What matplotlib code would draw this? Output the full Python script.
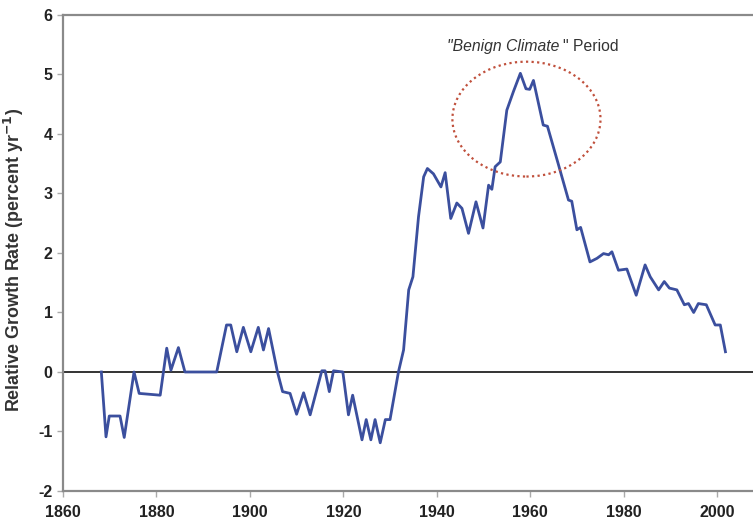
import matplotlib.pyplot as plt
from matplotlib.patches import Ellipse

plt.rcParams["font.family"] = ["Liberation Sans", "DejaVu Sans"]

# values
years = [
    1868.2, 1869.2, 1869.9, 1872.2, 1873.1, 1875.2, 1876.3, 1880.8, 1882.2, 1883.1,
    1884.7, 1886.1, 1892.9, 1895.0, 1895.9, 1897.2, 1898.6, 1900.2, 1901.8, 1902.9,
    1904.0, 1905.9, 1907.0, 1908.6, 1910.0, 1911.5, 1912.9, 1915.4, 1916.1, 1917.0,
    1917.9, 1919.9, 1921.1, 1922.0, 1924.0, 1924.9, 1925.9, 1926.8, 1927.9, 1929.0,
    1930.0, 1931.8, 1932.9, 1934.0, 1934.9, 1936.1, 1937.2, 1938.0, 1939.3, 1940.9,
    1941.8, 1943.0, 1944.3, 1945.4, 1946.8, 1948.4, 1949.9, 1951.1, 1951.8, 1952.5,
    1953.6, 1955.0, 1956.4, 1957.9, 1959.1, 1959.9, 1960.7, 1962.8, 1963.7, 1966.0,
    1968.2, 1968.9, 1970.0, 1970.8, 1972.8, 1974.3, 1975.7, 1976.8, 1977.5, 1978.9,
    1980.7, 1982.7, 1984.6, 1985.7, 1987.5, 1988.7, 1989.8, 1991.4, 1993.0, 1993.9,
    1995.0, 1996.0, 1997.7, 1999.6, 2000.7, 2001.8,
]
growth = [
    0.00, -1.09, -0.74, -0.74, -1.10, 0.00, -0.36, -0.39, 0.40, 0.03,
    0.41, 0.00, 0.00, 0.79, 0.79, 0.34, 0.75, 0.34, 0.75, 0.37,
    0.73, 0.00, -0.33, -0.36, -0.71, -0.35, -0.72, 0.02, 0.02, -0.33,
    0.02, 0.00, -0.72, -0.39, -1.14, -0.80, -1.14, -0.80, -1.19, -0.80,
    -0.80, 0.00, 0.37, 1.38, 1.60, 2.61, 3.28, 3.42, 3.33, 3.11,
    3.35, 2.58, 2.84, 2.75, 2.33, 2.86, 2.42, 3.14, 3.07, 3.45,
    3.53, 4.40, 4.71, 5.02, 4.76, 4.75, 4.90, 4.15, 4.13, 3.50,
    2.89, 2.87, 2.39, 2.43, 1.85, 1.91, 1.99, 1.97, 2.02, 1.71,
    1.73, 1.29, 1.80, 1.60, 1.38, 1.52, 1.41, 1.38, 1.13, 1.15,
    1.00, 1.15, 1.13, 0.79, 0.79, 0.34,
]

x_ticks = [1860, 1880, 1900, 1920, 1940, 1960, 1980, 2000]
y_ticks = [-2, -1, 0, 1, 2, 3, 4, 5, 6]

fig = plt.figure(figsize=(7.53, 5.24), dpi=100)
ax = fig.add_axes([0.0837, 0.063, 0.9163, 0.9084])

ax.axhline(0, color="#333333", lw=1.4, zorder=1)
ax.plot(years, growth, color="#3b4f9e", lw=2, solid_joinstyle="round", zorder=2)

# "benign climate" ring
ax.add_patch(Ellipse((1959.2, 4.25), 31.7, 1.93, fill=False, ec="#c0503c",
                     ls=(0, (1, 1.5)), lw=1.6, zorder=3))
ax.text(1942.2, 5.47, "\"Benign Climate", style="italic", fontsize=11.3,
        color="#333333", va="center", ha="left")
ax.text(1967.1, 5.47, "\" Period", fontsize=11.3, color="#333333",
        va="center", ha="left")

ax.set_xlim(1860, 2007.7)
ax.set_ylim(-2, 6)
ax.set_xticks(x_ticks)
ax.set_yticks(y_ticks)
ax.set_xticklabels([str(t) for t in x_ticks], fontweight="bold", fontsize=11.5)
ax.set_yticklabels([str(t) for t in y_ticks], fontweight="bold", fontsize=11.5)
ax.tick_params(axis="both", colors="#aaaaaa", labelcolor="#222222", length=4, width=1)
ax.tick_params(axis="x", pad=6)
ax.set_ylabel("Relative Growth Rate (percent yr$^{\\mathbf{-1}}$)", fontweight="bold",
              fontsize=12.9, color="#333333")
ax.yaxis.set_label_coords(-0.053, 0.485)

for side in ["left", "bottom", "top"]:
    ax.spines[side].set_color("#8a8a8a")
    ax.spines[side].set_linewidth(1.6)
ax.spines["right"].set_visible(False)

fig.savefig("out.png", dpi=100)
